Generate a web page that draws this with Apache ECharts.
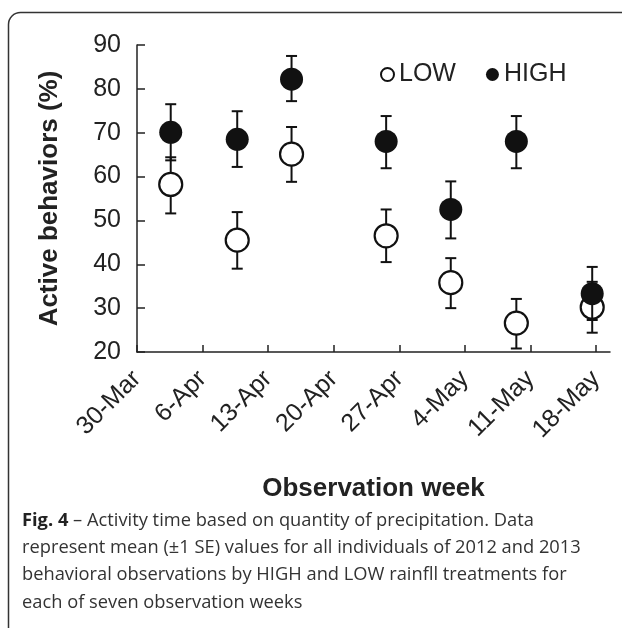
<!DOCTYPE html>
<html>
<head>
<meta charset="utf-8">
<script src="https://cdn.jsdelivr.net/npm/echarts@6/dist/echarts.min.js"></script>
<style>
html,body{margin:0;padding:0;background:#fff;}
#c{width:622px;height:628px;}
</style>
</head>
<body>
<div id="c"></div>
<script>
// Week tick labels (every 7 days from 30-Mar)
var tickLabels = ['30-Mar','6-Apr','13-Apr','20-Apr','27-Apr','4-May','11-May','18-May'];
var tickDays = [0, 7, 14, 21, 28, 35, 42, 49];
// Observation positions (days after 30-Mar)
var obsDays = [3.6, 10.7, 16.5, 26.6, 33.5, 40.5, 48.6];
// HIGH rainfall: mean, lower (-1 SE), upper (+1 SE)
var highMean  = [70.1, 68.5, 82.2, 68.0, 52.5, 68.0, 33.3];
var highLower = [63.7, 62.2, 77.2, 61.9, 45.9, 61.9, 27.3];
var highUpper = [76.5, 74.9, 87.5, 73.8, 58.9, 73.8, 39.4];
// LOW rainfall
var lowMean  = [58.2, 45.5, 65.1, 46.5, 35.8, 26.6, 30.2];
var lowLower = [51.6, 39.0, 58.8, 40.5, 30.0, 20.8, 24.4];
var lowUpper = [64.4, 51.9, 71.3, 52.5, 41.4, 32.1, 36.0];

var FONT = '"Liberation Sans", Arial, Helvetica, sans-serif';
var INK = '#222';

function pts(xs, ys){ return xs.map(function(x,i){ return [x, ys[i]]; }); }
function bars(xs, lo, hi){ return xs.map(function(x,i){ return [x, lo[i], hi[i]]; }); }

function errRender(params, api){
  var x = api.value(0);
  var p1 = api.coord([x, api.value(1)]);
  var p2 = api.coord([x, api.value(2)]);
  var cw = 5.5;
  var st = {stroke:'#111', lineWidth:2};
  return {type:'group', children:[
    {type:'line', shape:{x1:p1[0],y1:p1[1],x2:p2[0],y2:p2[1]}, style:st},
    {type:'line', shape:{x1:p1[0]-cw,y1:p1[1],x2:p1[0]+cw,y2:p1[1]}, style:st},
    {type:'line', shape:{x1:p2[0]-cw,y1:p2[1],x2:p2[0]+cw,y2:p2[1]}, style:st}
  ]};
}

var chart = echarts.init(document.getElementById('c'), null, {renderer:'canvas'});
chart.setOption({
  animation:false,
  backgroundColor:'#fff',
  grid:{left:137, right:12, top:45, bottom:276},
  legend:{
    data:['LOW','HIGH'], left:375, top:57, itemWidth:13, itemHeight:13, itemGap:30,
    textStyle:{fontFamily:FONT, fontSize:25, color:INK}
  },
  xAxis:{
    type:'value', min:0, max:50.5, interval:7,
    splitLine:{show:false},
    axisLine:{lineStyle:{color:'#222', width:1.5}},
    axisTick:{inside:true, length:7, lineStyle:{color:'#222', width:1.5}, customValues:tickDays},
    axisLabel:{rotate:45, margin:23, fontFamily:FONT, fontSize:25, color:INK, customValues:tickDays,
      formatter:function(v){ var i = tickDays.indexOf(Math.round(v)); return i>=0 ? tickLabels[i] : ''; }},
    name:'Observation week', nameLocation:'middle', nameGap:124,
    nameTextStyle:{fontFamily:FONT, fontSize:26, fontWeight:'bold', color:INK}
  },
  yAxis:{
    type:'value', min:20, max:90, interval:10,
    splitLine:{show:false},
    axisLine:{show:true, lineStyle:{color:'#222', width:1.5}},
    axisTick:{show:true, inside:true, length:8, lineStyle:{color:'#222', width:1.5}},
    axisLabel:{margin:16, fontFamily:FONT, fontSize:25, color:INK},
    name:'Active behaviors (%)', nameLocation:'middle', nameGap:74,
    nameTextStyle:{fontFamily:FONT, fontSize:26, fontWeight:'bold', color:INK}
  },
  graphic:[
    {type:'rect', shape:{x:8.5, y:12.5, width:700, height:700, r:12}, style:{fill:null, stroke:'#333', lineWidth:1.5}, silent:true, z:-10},
    {type:'text', left:22, top:507, style:{
      text:'{b|Fig. 4} – Activity time based on quantity of precipitation. Data\nrepresent mean (±1 SE) values for all individuals of 2012 and 2013\nbehavioral observations by HIGH and LOW rainfll treatments for\neach of seven observation weeks',
      font:'18.3px "Open Sans", sans-serif', fill:'#333', lineHeight:27.3,
      rich:{b:{fontWeight:'bold', fontFamily:'"Open Sans", sans-serif', fontSize:18.3, fill:'#222', lineHeight:27.3}}
    }}
  ],
  series:[
    {name:'LOW-err', type:'custom', renderItem:errRender, data:bars(obsDays, lowLower, lowUpper), z:2},
    {name:'LOW', type:'scatter', data:pts(obsDays, lowMean), symbol:'circle', symbolSize:23,
      itemStyle:{color:'#fff', borderColor:'#111', borderWidth:2.2, opacity:1}, z:3},
    {name:'HIGH-err', type:'custom', renderItem:errRender, data:bars(obsDays, highLower, highUpper), z:4},
    {name:'HIGH', type:'scatter', data:pts(obsDays, highMean), symbol:'circle', symbolSize:23,
      itemStyle:{color:'#111', borderColor:'#111', borderWidth:0, opacity:1}, z:5}
  ]
});
</script>
</body>
</html>
